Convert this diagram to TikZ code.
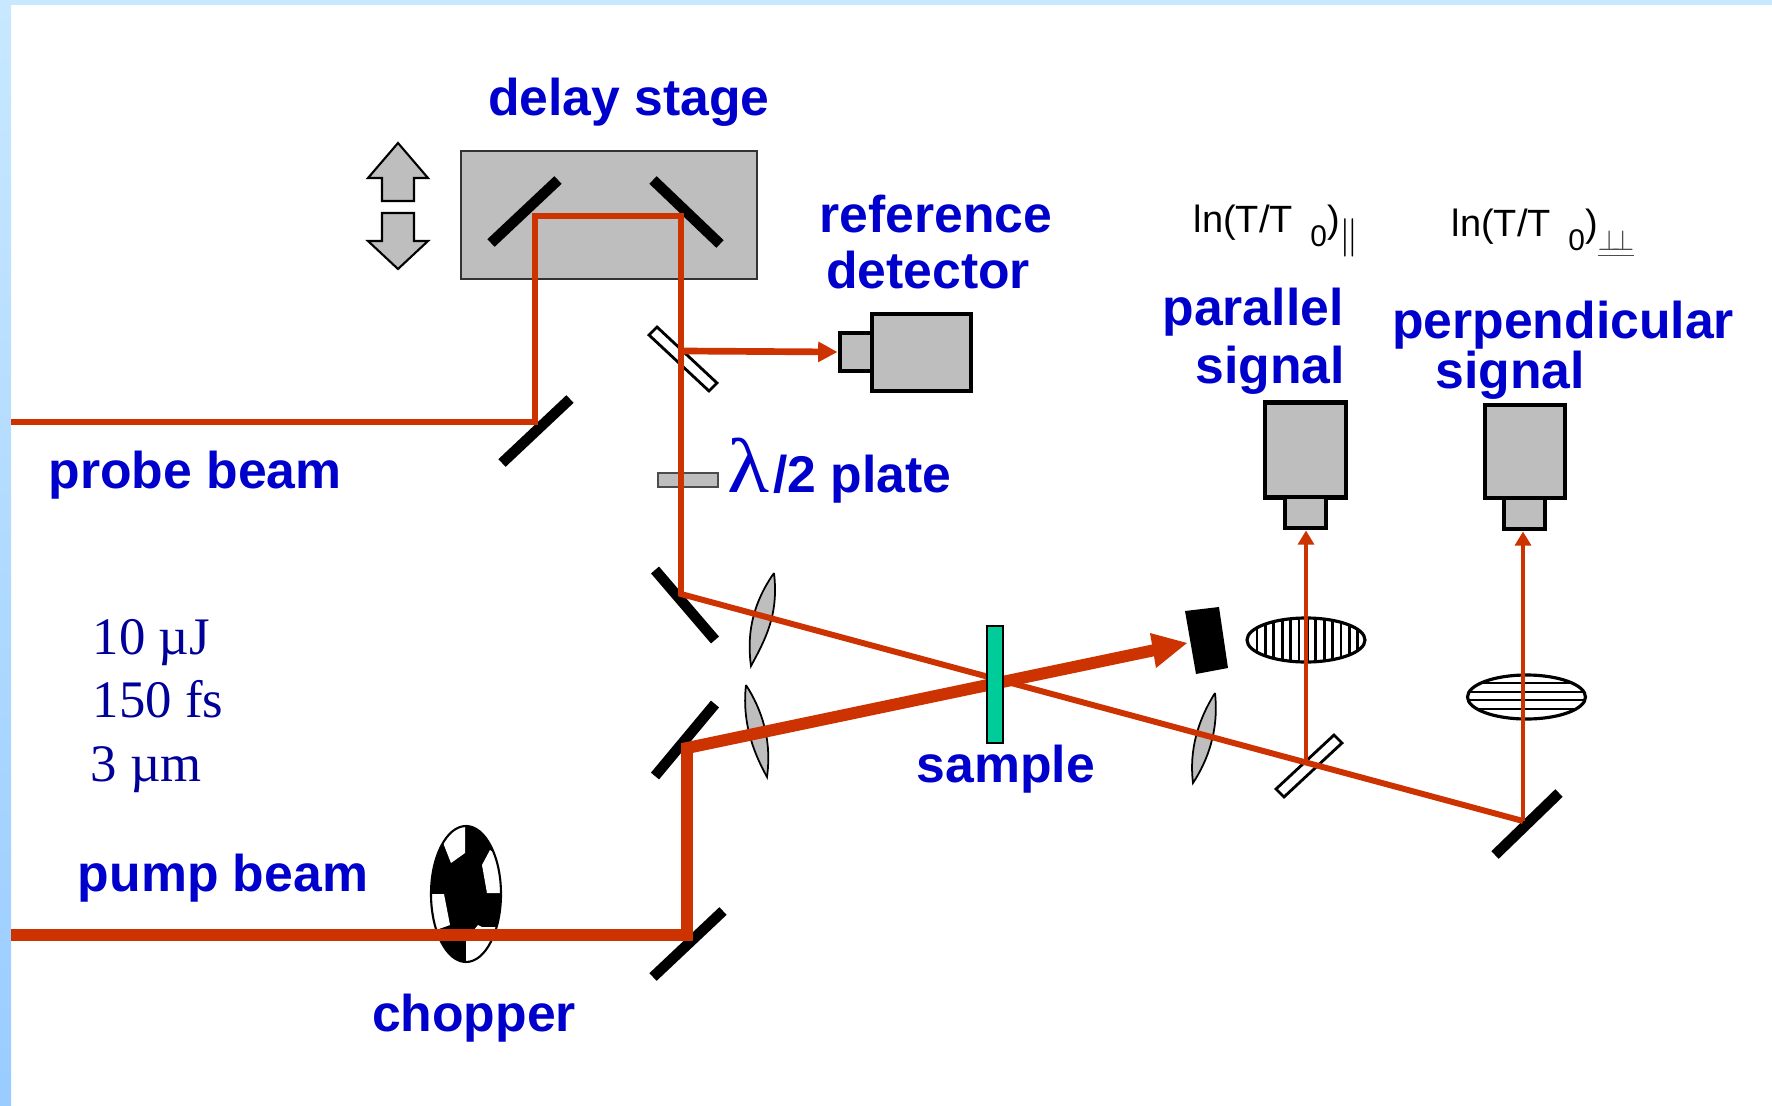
\documentclass[tikz,border=0pt]{standalone}
\usepackage{amsmath, amssymb}
\usepackage{fontspec}
\setmainfont{Liberation Sans}
\newfontfamily\timesfont{Liberation Serif}
\usetikzlibrary{arrows.meta}
\definecolor{beamred}{HTML}{CC3300}
\definecolor{labelblue}{HTML}{0000CC}
\definecolor{noteblue}{HTML}{000099}
\definecolor{partgray}{HTML}{BEBEBE}
\definecolor{samplegreen}{HTML}{00CC99}
\definecolor{edgetop}{HTML}{C8E8FF}
\definecolor{edgelow}{HTML}{99CCFF}
\tikzset{
	lbl/.style = {anchor=base, inner sep=0, text=labelblue, font=\fontsize{14.7}{17}\selectfont\bfseries},
	note/.style = {anchor=base west, inner sep=0, text=noteblue, font=\timesfont\fontsize{15}{18}\selectfont},
	sig/.style = {anchor=base west, inner sep=0, font=\fontsize{10.8}{13}\selectfont},
	probe/.style = {line width=1.7pt, draw=beamred},
	pump/.style = {line width=3.4pt, draw=beamred},
	mirror/.style = {line width=3pt, draw=black},
	splitter/.style = {draw=black, fill=white, line width=.8pt},
	lens/.style = {draw=black, fill=partgray, line width=.5pt},
	detbox/.style = {draw=black, fill=partgray, line width=1.4pt, inner sep=0},
	polar/.style = {draw=black, fill=white, line width=.9pt}
}
\begin{document}
\begin{tikzpicture}[x=.01cm, y=-.01cm]
		\useasboundingbox (0,0) rectangle (1772,1106);
		\fill [top color=edgetop, bottom color=edgelow] (0,0) rectangle (11,1106);
		\fill [edgetop] (0,0) rectangle (1772,5);

		% delay stage
		\node (stage) at (609,215) [draw=black!80, fill=partgray, line width=.5pt, minimum width=2.96cm, minimum height=1.28cm, inner sep=0] {};
		\draw [mirror] (491,243) -- (558,180);
		\draw [mirror] (653,180) -- (720,244);
		\draw [draw=black, fill=partgray, line width=.6pt] (398,143) -- (428,178) -- (414,178) -- (414,201) -- (382,201) -- (382,178) -- (368,178) -- cycle;
		\draw [draw=black, fill=partgray, line width=.6pt] (398,269) -- (428,241) -- (414,241) -- (414,213) -- (382,213) -- (382,241) -- (368,241) -- cycle;

		% mirrors, splitters and plates
		\draw [mirror] (502,463) -- (570,399);
		\draw [mirror] (655,570) -- (715,640);
		\draw [mirror] (715,704) -- (655,776);
		\draw [mirror] (723,911) -- (653,977);
		\draw [mirror] (1559,793) -- (1495,855);
		\draw [splitter] (657,327) -- (717,383) -- (709,391) -- (649,335) -- cycle;
		\draw [splitter] (1334,735) -- (1342,743) -- (1284,797) -- (1276,789) -- cycle;
		\node (plate) at (688,480) [draw=black!70, fill=partgray, line width=.4pt, minimum width=.6cm, minimum height=.14cm, inner sep=0] {};

		% lenses
		\draw [lens] (774,573) .. controls (779,615) and (765,640) .. (751,666) .. controls (746,630) and (755,600) .. (774,573);
		\draw [lens] (746,685) .. controls (742,720) and (752,750) .. (767,777) .. controls (772,740) and (762,710) .. (746,685);
		\draw [lens] (1215,693) .. controls (1219,730) and (1208,760) .. (1193,783) .. controls (1189,750) and (1198,720) .. (1215,693);

		% detectors
		\node (refbody) at (921.5,352.5) [detbox, minimum width=.99cm, minimum height=.77cm] {};
		\node (refnose) at (856,352) [detbox, minimum width=.32cm, minimum height=.38cm] {};
		\node (parbody) at (1305.5,450) [detbox, minimum width=.81cm, minimum height=.95cm] {};
		\node (parnose) at (1305.5,512.5) [detbox, minimum width=.41cm, minimum height=.31cm] {};
		\node (perbody) at (1525,451.5) [detbox, minimum width=.8cm, minimum height=.93cm] {};
		\node (pernose) at (1524.5,513.5) [detbox, minimum width=.41cm, minimum height=.31cm] {};

		% analysers
		\begin{scope}
			\draw [polar] (1306,640) ellipse (59 and 22);
			\clip (1306,640) ellipse (59 and 22);
			\foreach \xx in {-49,-40.6,...,52}
				\draw [line width=.8pt] (1306+\xx,610) -- (1306+\xx,670);
		\end{scope}
		\begin{scope}
			\draw [polar] (1526.5,697) ellipse (59 and 22);
			\clip (1526.5,697) ellipse (59 and 22);
			\foreach \yy in {683,692,700,709}
				\draw [line width=.8pt] (1460,\yy) -- (1590,\yy);
		\end{scope}

		% chopper
		\begin{scope}
			\fill [black] (466,894) ellipse (35 and 68);
			\clip (466,894) ellipse (35 and 68);
			\fill [white] (465,825) -- (440,835) -- (451,863) -- (465,853) -- cycle;
			\fill [white] (490,850) -- (482,865) -- (487,893) -- (505,893) -- (505,860) -- cycle;
			\fill [white] (430,894) -- (444,894) -- (450,925) -- (436,930) -- cycle;
			\fill [white] (466,962) -- (466,940) -- (478,925) -- (482,927) -- (500,927) -- (500,962) -- cycle;
		\end{scope}
		\draw [line width=.6pt] (466,894) ellipse (35 and 68);

		% probe beam
		\coordinate (probein) at (11,422);
		\coordinate (probeA) at (535,422);
		\coordinate (probeB) at (535,216);
		\coordinate (probeC) at (681,216);
		\coordinate (probeD) at (681,594);
		\coordinate (probeE) at (1523,821);
		\coordinate (splitA) at (684,351);
		\coordinate (splitB) at (1306,763);
		\draw [probe] (probein) -- (probeA) -- (probeB) -- (probeC) -- (probeD) -- (probeE);
		\draw [probe, line width=1.9pt, -{Triangle[length=5.5pt, width=5.5pt]}] (splitA) -- (refnose.west);
		\draw [probe, line width=1.1pt, -{Triangle[length=4pt, width=4.5pt]}] (splitB) -- (splitB |- parnose.south);
		\draw [probe, line width=1.1pt, -{Triangle[length=4pt, width=4.5pt]}] (probeE) -- (probeE |- pernose.south);

		% pump beam
		\coordinate (pumpin) at (11,935);
		\coordinate (pumpA) at (687,935);
		\coordinate (pumpB) at (687,748);
		\coordinate (pumpC) at (1155,650);
		\coordinate (pumpD) at (1187,643);
		\draw [pump] (pumpin) -- (pumpA) -- (pumpB) -- (pumpC);
		\fill [beamred] (pumpD) -- (1150,633) -- (1156,668) -- cycle;
		\node (sample) at (995,684.5) [draw=black, fill=samplegreen, line width=.6pt, minimum width=.16cm, minimum height=1.17cm, inner sep=0] {};
		\fill (1185,611) -- (1219,607) -- (1228,668) -- (1196,674) -- cycle;

		% labels
		\node (delaytxt) at (629,115) [lbl] {delay stage};
		\node (reftxt) at (936,232) [lbl] {reference};
		\node (dettxt) at (928,288) [lbl] {detector};
		\node (partxt) at (1253,325) [lbl] {parallel};
		\node (parsig) at (1270,383) [lbl] {signal};
		\node (pertxt) at (1563,338) [lbl] {perpendicular};
		\node (persig) at (1510,388) [lbl] {signal};
		\node (probetxt) at (195,488) [lbl] {probe beam};
		\node (pumptxt) at (223,891) [lbl] {pump beam};
		\node (sampletxt) at (1006,782) [lbl] {sample};
		\node (choptxt) at (474,1031) [lbl] {chopper};
		\node (lamtxt) at (727,492) [anchor=base west, inner sep=0, text=labelblue] {\scalebox{1.12}[1]{\timesfont\fontsize{22}{22}\selectfont λ}\hspace{1pt}{\fontsize{14.7}{17}\selectfont\bfseries /2 plate}};
		\node (noteA) at (92,654) [note] {10 µJ};
		\node (noteB) at (92,717) [note] {150 fs};
		\node (noteC) at (90,781) [note] {3 µm};
		\node (sigpar) at (1193,232) [sig] {ln(T/T\hspace{5pt}\raisebox{-4pt}{\fontsize{8.5}{9}\selectfont 0})\raisebox{-4.5pt}{$\parallel$}};
		\node (sigper) at (1451,236) [sig] {ln(T/T\hspace{5pt}\raisebox{-4pt}{\fontsize{8.5}{9}\selectfont 0})\raisebox{-4pt}{\textcolor{black!70}{$\underline{\scriptstyle\perp\!\!\perp}$}}};
\end{tikzpicture}
\end{document}
